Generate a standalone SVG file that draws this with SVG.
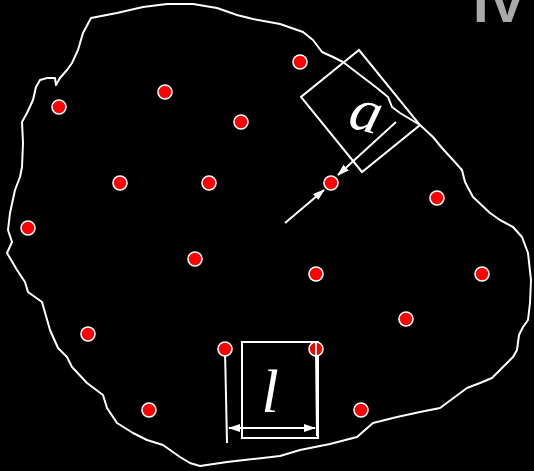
<svg xmlns="http://www.w3.org/2000/svg" width="534" height="471" viewBox="0 0 534 471">
<defs>
<style>
.bg{fill:#000}
.blob{fill:none;stroke:#fff;stroke-width:2;stroke-linejoin:round;stroke-linecap:round}
.dot{fill:#f00;stroke:#fff;stroke-width:1.6}
.ln{fill:none;stroke:#fff;stroke-width:2}
.lbl{font-family:"Liberation Serif","Times New Roman",serif;font-style:italic;fill:#fff}
.tag{font-family:"Liberation Sans",Arial,sans-serif;font-weight:bold;fill:#aaa}
</style>
<marker id="ah" viewBox="0 0 12 8" refX="11" refY="4" markerWidth="12" markerHeight="8" markerUnits="userSpaceOnUse" orient="auto-start-reverse">
<path d="M0,0 L12,4 L0,8 z" fill="#fff"/>
</marker>
</defs>
<rect class="bg" x="0" y="0" width="534" height="471"/>
<text class="tag" x="473" y="22" font-size="56">IV</text>
<path class="blob" d="M91,18 L117,13 L143,7 L167,4 L193,4 L217,8 L237,15 L253,19 L280,24 L303,32 L313,40 L322,52 L333,57 L343,62 L360,75 L377,88 L388,97 L392,107 L400,113 L420,125 L433,137 L442,148 L453,160 L462,170 L465,182 L473,197 L490,213 L500,220 L513,227 L522,237 L528,253 L531,280 L530,303 L528,320 L523,327 L519,335 L517,350 L513,357 L492,378 L480,383 L467,388 L440,408 L420,412 L397,417 L373,423 L357,437 L330,444 L300,450 L280,456 L253,459 L227,462 L200,466 L190,463 L180,457 L163,445 L147,440 L133,433 L117,423 L107,408 L103,395 L87,383 L72,367 L67,357 L58,348 L50,330 L42,302 L28,292 L25,282 L17,270 L7,253 L12,242 L8,230 L10,213 L15,190 L20,177 L22,167 L23,143 L22,122 L27,113 L33,100 L36,87 L40,80 L47,78 L55,78 L56,85 L60,78 L67,70 L72,63 L78,50 L83,33 Z"/>
<g id="box-a">
<polygon class="ln" points="359,50 420,125 362,172 301,97"/>
<text class="lbl" x="365" y="131" font-size="62" text-anchor="middle" transform="rotate(15 365 117)">a</text>
</g>
<g id="box-l">
<rect class="ln" x="242" y="342" width="76" height="96"/>
<text class="lbl" x="270" y="412" font-size="62" text-anchor="middle">l</text>
</g>
<g id="connectors">
<line class="ln" x1="396" y1="122" x2="338" y2="175" marker-end="url(#ah)"/>
<line class="ln" x1="285" y1="223" x2="324" y2="190" marker-end="url(#ah)"/>
<line class="ln" x1="225" y1="350" x2="227" y2="443"/>
<line class="ln" x1="316" y1="350" x2="317" y2="436"/>
<line class="ln" x1="229" y1="428" x2="315" y2="428" marker-start="url(#ah)" marker-end="url(#ah)"/>
</g>
<g id="dot1"><circle class="dot" cx="300" cy="62" r="7"/></g>
<g id="dot2"><circle class="dot" cx="59" cy="107" r="7"/></g>
<g id="dot3"><circle class="dot" cx="165" cy="92" r="7"/></g>
<g id="dot4"><circle class="dot" cx="241" cy="122" r="7"/></g>
<g id="dot5"><circle class="dot" cx="120" cy="183" r="7"/></g>
<g id="dot6"><circle class="dot" cx="209" cy="183" r="7"/></g>
<g id="dot7"><circle class="dot" cx="331" cy="183" r="7"/></g>
<g id="dot8"><circle class="dot" cx="437" cy="198" r="7"/></g>
<g id="dot9"><circle class="dot" cx="28" cy="228" r="7"/></g>
<g id="dot10"><circle class="dot" cx="195" cy="259" r="7"/></g>
<g id="dot11"><circle class="dot" cx="316" cy="274" r="7"/></g>
<g id="dot12"><circle class="dot" cx="482" cy="274" r="7"/></g>
<g id="dot13"><circle class="dot" cx="406" cy="319" r="7"/></g>
<g id="dot14"><circle class="dot" cx="88" cy="334" r="7"/></g>
<g id="dot15"><circle class="dot" cx="225" cy="349" r="7"/></g>
<g id="dot16"><circle class="dot" cx="316" cy="349" r="7"/></g>
<g id="dot17"><circle class="dot" cx="149" cy="410" r="7"/></g>
<g id="dot18"><circle class="dot" cx="361" cy="410" r="7"/></g>
<line class="ln" x1="316" y1="342" x2="316" y2="357"/>
</svg>
